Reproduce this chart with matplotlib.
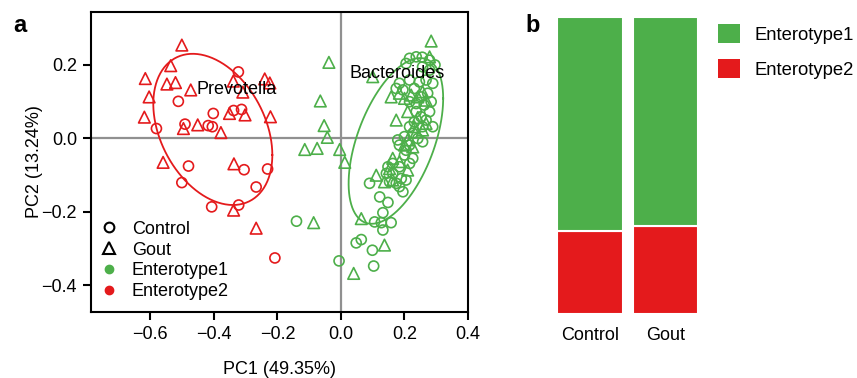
import numpy as np
import matplotlib.pyplot as plt
from matplotlib.lines import Line2D
from matplotlib.patches import Patch

plt.rcParams['font.family'] = ['Liberation Sans', 'DejaVu Sans']
plt.rcParams['font.size'] = 13

GREEN = '#4DAF4A'
RED = '#E41A1C'
GRID = '#909090'

# PCoA coordinates (PC1, PC2) per group and enterotype
ctrl_e1 = [
    (0.216, 0.217), (0.237, 0.221), (0.256, 0.220), (0.279, 0.212), (0.296, 0.199),
    (0.205, 0.203), (0.257, 0.194), (0.279, 0.185),
    (0.184, 0.149), (0.216, 0.158), (0.247, 0.153), (0.268, 0.158), (0.289, 0.149),
    (0.174, 0.135), (0.195, 0.131), (0.231, 0.135), (0.252, 0.112), (0.273, 0.122),
    (0.284, 0.099), (0.216, 0.099), (0.237, 0.094), (0.262, 0.090),
    (0.237, 0.072), (0.279, 0.072), (0.252, 0.058), (0.268, 0.049), (0.231, 0.044),
    (0.257, 0.031), (0.289, 0.031), (0.216, 0.031),
    (0.179, -0.005), (0.257, -0.010), (0.200, 0.004), (0.226, 0.013), (0.242, -0.001),
    (0.216, -0.019), (0.184, -0.019), (0.205, -0.033),
    (0.200, -0.046), (0.226, -0.055), (0.163, -0.069), (0.184, -0.078), (0.148, -0.078),
    (0.216, -0.069),
    (0.143, -0.096), (0.163, -0.096), (0.190, -0.110), (0.205, -0.114), (0.090, -0.123),
    (0.195, -0.146), (0.153, -0.119), (0.174, -0.123), (0.184, -0.132),
    (0.122, -0.160), (0.148, -0.175), (0.132, -0.203), (0.106, -0.228), (0.127, -0.230),
    (0.158, -0.230), (0.132, -0.250), (0.064, -0.276), (0.048, -0.285), (0.099, -0.305),
    (-0.006, -0.334), (0.103, -0.348), (-0.140, -0.226),
]
gout_e1 = [
    (0.284, 0.264), (-0.038, 0.206), (0.279, 0.221), (0.100, 0.167), (-0.065, 0.101),
    (-0.053, 0.034), (-0.043, 0.002), (-0.114, -0.031), (-0.075, -0.028), (-0.004, -0.031),
    (0.012, -0.066), (0.064, -0.219), (-0.086, -0.230), (0.137, -0.291), (0.040, -0.368),
    (0.158, 0.112), (0.184, 0.122), (0.200, 0.108), (0.221, 0.117), (0.242, 0.112),
    (0.257, 0.126), (0.268, 0.103), (0.210, 0.072), (0.174, 0.049), (0.231, 0.031),
    (0.268, 0.040), (0.242, 0.056), (0.257, 0.022), (0.200, -0.019), (0.226, -0.024),
    (0.210, -0.005), (0.237, 0.017), (0.163, -0.055), (0.184, -0.064), (0.153, -0.083),
    (0.210, -0.087), (0.111, -0.101), (0.137, -0.119), (0.163, -0.114),
]
ctrl_e2 = [
    (-0.323, 0.180), (-0.512, 0.100), (-0.402, 0.067), (-0.338, 0.075), (-0.313, 0.078),
    (-0.491, 0.038), (-0.418, 0.034), (-0.405, 0.031), (-0.581, 0.026),
    (-0.480, -0.076), (-0.305, -0.086), (-0.231, -0.084),
    (-0.501, -0.121), (-0.267, -0.133), (-0.407, -0.187), (-0.322, -0.182),
    (-0.208, -0.326),
]
gout_e2 = [
    (-0.501, 0.253), (-0.536, 0.197), (-0.616, 0.162), (-0.548, 0.147), (-0.521, 0.151),
    (-0.473, 0.131), (-0.604, 0.112), (-0.619, 0.057), (-0.496, 0.026), (-0.451, 0.036),
    (-0.378, 0.015), (-0.351, 0.067), (-0.302, 0.063), (-0.339, 0.155), (-0.309, 0.125),
    (-0.240, 0.161), (-0.224, 0.150), (-0.222, 0.058), (-0.560, -0.066), (-0.337, -0.070),
    (-0.338, -0.196), (-0.267, -0.245),
]

# enterotype share within each group
groups = ['Control', 'Gout']
share_e2 = [0.28, 0.295]
share_e1 = [1 - v for v in share_e2]


def ellipse(pts, level=0.68):
    # normal-theory confidence ellipse around the cluster
    X = np.asarray(pts)
    loc = X.mean(axis=0)
    cov = np.cov(X.T)
    dfd = len(X) - 1
    qf = dfd / 2 * ((1 - level) ** (-2 / dfd) - 1)
    r = np.sqrt(2 * qf)
    t = np.linspace(0, 2 * np.pi, 200)
    L = np.linalg.cholesky(cov)
    e = loc[:, None] + r * L @ np.vstack([np.cos(t), np.sin(t)])
    return e[0], e[1]


def minus_fmt(v, pos):
    return f'{v:.1f}'.replace('-', '\u2212')


fig = plt.figure(figsize=(8.57, 3.78), dpi=100)

# ---- panel a: PCoA ----
ax = fig.add_axes([91 / 857, 1 - 312 / 378, 377 / 857, 300 / 378])
ax.axhline(0, color=GRID, lw=1.6, zorder=0)
ax.axvline(0, color=GRID, lw=1.6, zorder=0)

for pts, col, mk, s in [(ctrl_e2, RED, 'o', 52), (gout_e2, RED, '^', 70),
                        (ctrl_e1, GREEN, 'o', 52), (gout_e1, GREEN, '^', 70)]:
    xy = np.array(pts)
    ax.scatter(xy[:, 0], xy[:, 1], marker=mk, s=s, facecolors='none',
               edgecolors=col, linewidths=1.2)

ex, ey = ellipse(ctrl_e2 + gout_e2)
ax.plot(ex, ey, color=RED, lw=1.3)
ex, ey = ellipse(ctrl_e1 + gout_e1)
ax.plot(ex, ey, color=GREEN, lw=1.3)

ax.text(-0.328, 0.133, 'Prevotella', ha='center', va='center')
ax.text(0.178, 0.176, 'Bacteroides', ha='center', va='center')

ax.set_xlim(-0.787, 0.4)
ax.set_ylim(-0.473, 0.343)
ax.set_xticks([-0.6, -0.4, -0.2, 0.0, 0.2, 0.4])
ax.set_yticks([-0.4, -0.2, 0.0, 0.2])
ax.xaxis.set_major_formatter(plt.FuncFormatter(minus_fmt))
ax.yaxis.set_major_formatter(plt.FuncFormatter(minus_fmt))
ax.tick_params(direction='out', length=6, width=1.5, labelsize=13, pad=4)
for sp in ax.spines.values():
    sp.set_linewidth(1.5)
ax.set_xlabel('PC1 (49.35%)')
ax.set_ylabel('PC2 (13.24%)')
ax.xaxis.set_label_coords(0.5, -0.162)
ax.yaxis.set_label_coords(-0.127, 0.5)

handles = [
    Line2D([], [], ls='', marker='o', mfc='none', mec='black', mew=1.5, ms=7),
    Line2D([], [], ls='', marker='^', mfc='none', mec='black', mew=1.5, ms=8),
    Line2D([], [], ls='', marker='o', mfc=GREEN, mec=GREEN, ms=6),
    Line2D([], [], ls='', marker='o', mfc=RED, mec=RED, ms=6),
]
ax.legend(handles, ['Control', 'Gout', 'Enterotype1', 'Enterotype2'],
          loc='upper left', bbox_to_anchor=(0.029, 0.304), frameon=False,
          borderpad=0, borderaxespad=0, handlelength=0.8, handletextpad=0.86,
          labelspacing=0.21, fontsize=13)

# ---- panel b: enterotype proportions ----
axb = fig.add_axes([552.25 / 857, 1 - 314 / 378, 151 / 857, 297 / 378])
xpos = np.arange(len(groups))
axb.bar(xpos, share_e2, width=0.87, color=RED, edgecolor='white', lw=1.5)
axb.bar(xpos, share_e1, bottom=share_e2, width=0.87, color=GREEN,
        edgecolor='white', lw=1.5)
axb.set_xlim(-0.5, 1.5)
axb.set_ylim(0, 1)
axb.set_xticks(xpos)
axb.set_xticklabels(groups)
axb.set_yticks([])
axb.tick_params(axis='x', length=0, pad=9, labelsize=13)
for sp in axb.spines.values():
    sp.set_visible(False)

fig.legend([Patch(facecolor=GREEN), Patch(facecolor=RED)],
           ['Enterotype1', 'Enterotype2'], loc='upper left',
           bbox_to_anchor=(718 / 857, 1 - 24 / 378), frameon=False,
           borderpad=0, borderaxespad=0, handlelength=1.19, handleheight=1.19,
           handletextpad=0.76, labelspacing=0.85, fontsize=13.3)

fig.text(20 / 857, 1 - 26 / 378, 'a', weight='bold', size=17, ha='center', va='center')
fig.text(533 / 857, 1 - 26 / 378, 'b', weight='bold', size=17, ha='center', va='center')

fig.savefig('out.png', dpi=100)
